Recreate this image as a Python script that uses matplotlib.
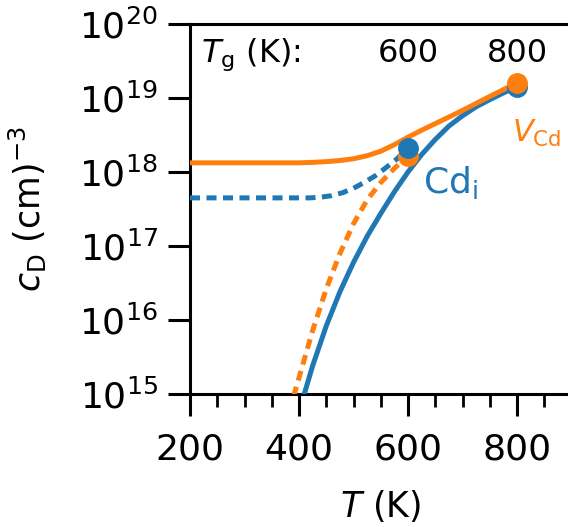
import matplotlib
matplotlib.use("Agg")
import matplotlib.pyplot as plt
from matplotlib.ticker import MultipleLocator, NullLocator, LogLocator

# ---- data ----
T_vcd_solid = [200, 400, 425, 450, 475, 500, 525, 550, 575, 600, 625, 650, 700, 750, 800]
c_vcd_solid = [1.33e18, 1.33e18, 1.35e18, 1.38e18, 1.43e18, 1.51e18, 1.66e18, 1.91e18,
               2.34e18, 2.95e18, 3.67e18, 4.5e18, 6.8e18, 1.05e19, 1.6e19]

T_cdi_solid = [400, 408, 425, 450, 475, 500, 525, 550, 575, 600, 625, 650, 675, 700, 725, 750, 775, 800]
c_cdi_solid = [5.9e14, 9.1e14, 2.4e15, 8.3e15, 2.4e16, 6.0e16, 1.35e17, 2.75e17, 5.4e17,
               1.0e18, 1.72e18, 2.75e18, 4.17e18, 5.75e18, 7.6e18, 9.5e18, 1.17e19, 1.42e19]

T_vcd_dash = [390, 400, 425, 450, 475, 500, 525, 550, 575, 600]
c_vcd_dash = [9.3e14, 1.66e15, 7.2e15, 2.63e16, 7.9e16, 2.0e17, 4.2e17, 7.2e17,
              1.12e18, 1.62e18]

T_cdi_dash = [200, 420, 440, 460, 480, 500, 520, 540, 560, 580, 600]
c_cdi_dash = [4.47e17, 4.47e17, 4.57e17, 4.79e17, 5.25e17, 6.03e17, 7.24e17, 8.9e17,
              1.15e18, 1.51e18, 2.1e18]

Tg_points = [600, 800]
c_cdi_points = [2.1e18, 1.42e19]
c_vcd_points = [1.62e18, 1.6e19]

Tg_labels = ["600", "800"]

blue = "#1f77b4"
orange = "#ff7f0e"

fig = plt.figure(figsize=(5.68, 5.27), dpi=100)
ax = fig.add_axes([190 / 568, (527 - 394) / 527, 381.5 / 568, 370 / 527])

lw = 3.6
ax.plot(T_cdi_solid, c_cdi_solid, color=blue, lw=lw, zorder=3)
ax.plot(T_vcd_solid, c_vcd_solid, color=orange, lw=lw, zorder=4)
ax.plot(T_cdi_dash, c_cdi_dash, color=blue, lw=lw, dashes=(2.0, 1.3), zorder=3)
ax.plot(T_vcd_dash, c_vcd_dash, color=orange, lw=lw, dashes=(2.0, 1.3), zorder=3)

ms = 14
ax.plot(Tg_points[0], c_vcd_points[0], 'o', color=orange, ms=ms, zorder=5)
ax.plot(Tg_points[0], c_cdi_points[0], 'o', color=blue, ms=ms, zorder=6)
ax.plot(Tg_points[1], c_cdi_points[1], 'o', color=blue, ms=ms, zorder=5)
ax.plot(Tg_points[1], c_vcd_points[1], 'o', color=orange, ms=ms, zorder=6)

ax.set_yscale('log')
ax.set_xlim(200, 900)
ax.set_ylim(1e15, 1e20)
ax.set_xticks([200, 400, 600, 800])
ax.xaxis.set_minor_locator(MultipleLocator(50))
ax.yaxis.set_major_locator(LogLocator(base=10, numticks=10))
ax.yaxis.set_minor_locator(NullLocator())

for s in ax.spines.values():
    s.set_linewidth(2.2)
ax.tick_params(which='major', length=16, width=2.2, labelsize=26, pad=7)
ax.tick_params(axis='x', which='major', pad=12)
ax.tick_params(which='minor', length=9, width=2.0)

ax.set_xlabel(r'$T$ (K)', fontsize=25, labelpad=15)
ax.set_ylabel(r'$c_{\mathrm{D}}$ (cm)$^{-3}$', fontsize=25, labelpad=22)

ax.text(221, 10**19.49, r'$T_{\mathrm{g}}$ (K):', fontsize=23, ha='left', va='baseline')
for T, lab in zip(Tg_points, Tg_labels):
    ax.text(T, 10**19.49, lab, fontsize=23, ha='center', va='baseline')

ax.text(627, 10**17.72, r'Cd$_{\mathrm{i}}$', fontsize=26, color=blue, ha='left', va='baseline')
ax.text(791, 10**18.41, r'$V_{\mathrm{Cd}}$', fontsize=22, color=orange, ha='left', va='baseline')

fig.savefig("out.png", dpi=100)
